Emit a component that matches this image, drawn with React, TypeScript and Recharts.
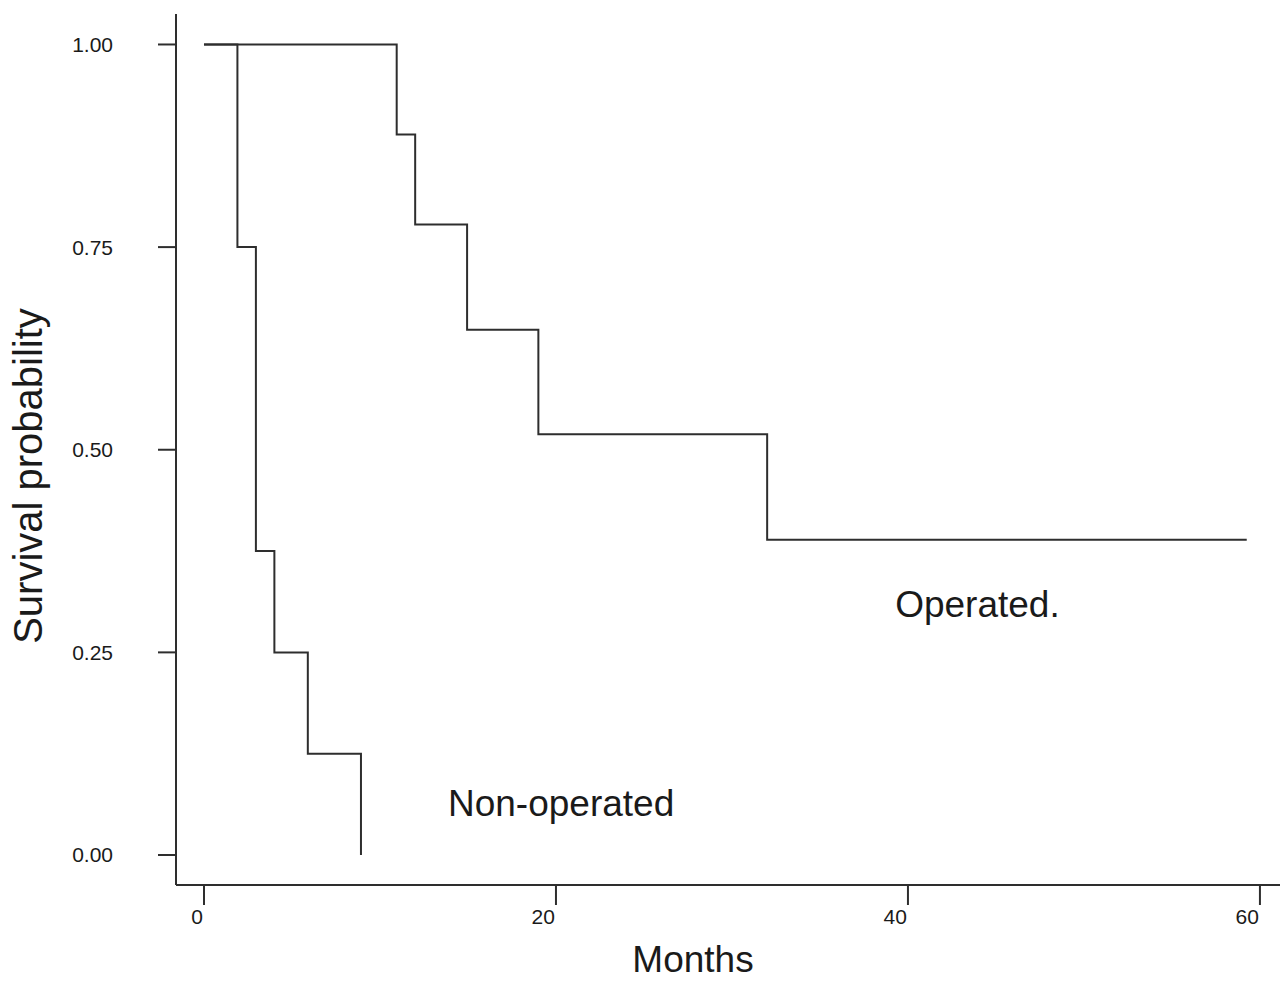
import React from 'react';
import { LineChart, Line, XAxis, YAxis, ReferenceDot, Label } from 'recharts';

// Kaplan-Meier steps (months, survival probability)
const nonOpTimes = [0, 1.9, 2.95, 4, 5.9, 8.92];
const nonOpSurv = [1, 0.75, 0.375, 0.25, 0.125, 0];

const opTimes = [0, 10.95, 12, 14.95, 19, 32, 59.25];
const opSurv = [1, 0.889, 0.778, 0.648, 0.519, 0.389, 0.389];

const xTicks = [0, 20, 40, 60];
const yTicks = [0, 0.25, 0.5, 0.75, 1];

const nonOpData = nonOpTimes.map((t, i) => ({ t, s: nonOpSurv[i] }));
const opData = opTimes.map((t, i) => ({ t, s: opSurv[i] }));

const FONT = '"Liberation Sans", Arial, Helvetica, sans-serif';
const INK = '#1a1a1a';
const LINE = '#2e2e2e';

const XTick = (props: any) => {
  const { x, y, payload } = props;
  return (
    <text x={x - 1} y={y} dy="0.71em" textAnchor="end" fontSize={21} fontFamily={FONT} fill={INK}>
      {payload.value}
    </text>
  );
};

const YTick = (props: any) => {
  const { x, y, payload } = props;
  return (
    <text x={x} y={y} dy="0.355em" textAnchor="end" fontSize={21} fontFamily={FONT} fill={INK}>
      {Number(payload.value).toFixed(2)}
    </text>
  );
};

const monthsLabel = (props: any) => {
  const vb = props.viewBox || { x: 176, y: 885 };
  return (
    <text x={vb.x + 517} y={vb.y + 87} textAnchor="middle" fontSize={37} fontFamily={FONT} fill={INK}>
      Months
    </text>
  );
};

const survLabel = (props: any) => {
  const vb = props.viewBox || { x: 0, y: 14 };
  const cx = vb.x + 42;
  const cy = vb.y + 462;
  return (
    <text
      x={cx}
      y={cy}
      textAnchor="middle"
      transform={`rotate(-90, ${cx}, ${cy})`}
      fontSize={40}
      fontFamily={FONT}
      fill={INK}
    >
      Survival probability
    </text>
  );
};

const curveLabel = (text: string) => (props: any) => {
  const vb = props.viewBox || { x: 0, y: 0 };
  return (
    <text x={vb.x} y={vb.y} textAnchor="start" fontSize={37} fontFamily={FONT} fill={INK}>
      {text}
    </text>
  );
};

export default function App() {
  return (
    <div style={{ position: 'absolute', left: 0, top: 0, background: '#fff' }}>
      <LineChart width={1280} height={981} margin={{ top: 14, right: 0, bottom: 0, left: 0 }}>
        <XAxis
          type="number"
          dataKey="t"
          domain={[-1.59, 61.14]}
          ticks={xTicks}
          allowDataOverflow
          interval={0}
          height={96}
          tickSize={20}
          tickMargin={4}
          axisLine={{ stroke: LINE, strokeWidth: 2 }}
          tickLine={{ stroke: LINE, strokeWidth: 2 }}
          tick={<XTick />}
          label={<Label content={monthsLabel} />}
        />
        <YAxis
          type="number"
          domain={[-0.037, 1.0376]}
          ticks={yTicks}
          allowDataOverflow
          interval={0}
          width={176}
          tickSize={18}
          tickMargin={45}
          axisLine={{ stroke: LINE, strokeWidth: 2 }}
          tickLine={{ stroke: LINE, strokeWidth: 2 }}
          tick={<YTick />}
          label={<Label content={survLabel} />}
        />
        <Line
          data={nonOpData}
          dataKey="s"
          type="stepAfter"
          stroke={LINE}
          strokeWidth={2}
          dot={false}
          activeDot={false}
          isAnimationActive={false}
        />
        <Line
          data={opData}
          dataKey="s"
          type="stepAfter"
          stroke={LINE}
          strokeWidth={2}
          dot={false}
          activeDot={false}
          isAnimationActive={false}
        />
        <ReferenceDot x={39.33} y={0.292} r={1} fill="none" stroke="none" label={<Label content={curveLabel('Operated.')} />} />
        <ReferenceDot x={13.92} y={0.0473} r={1} fill="none" stroke="none" label={<Label content={curveLabel('Non-operated')} />} />
      </LineChart>
    </div>
  );
}
